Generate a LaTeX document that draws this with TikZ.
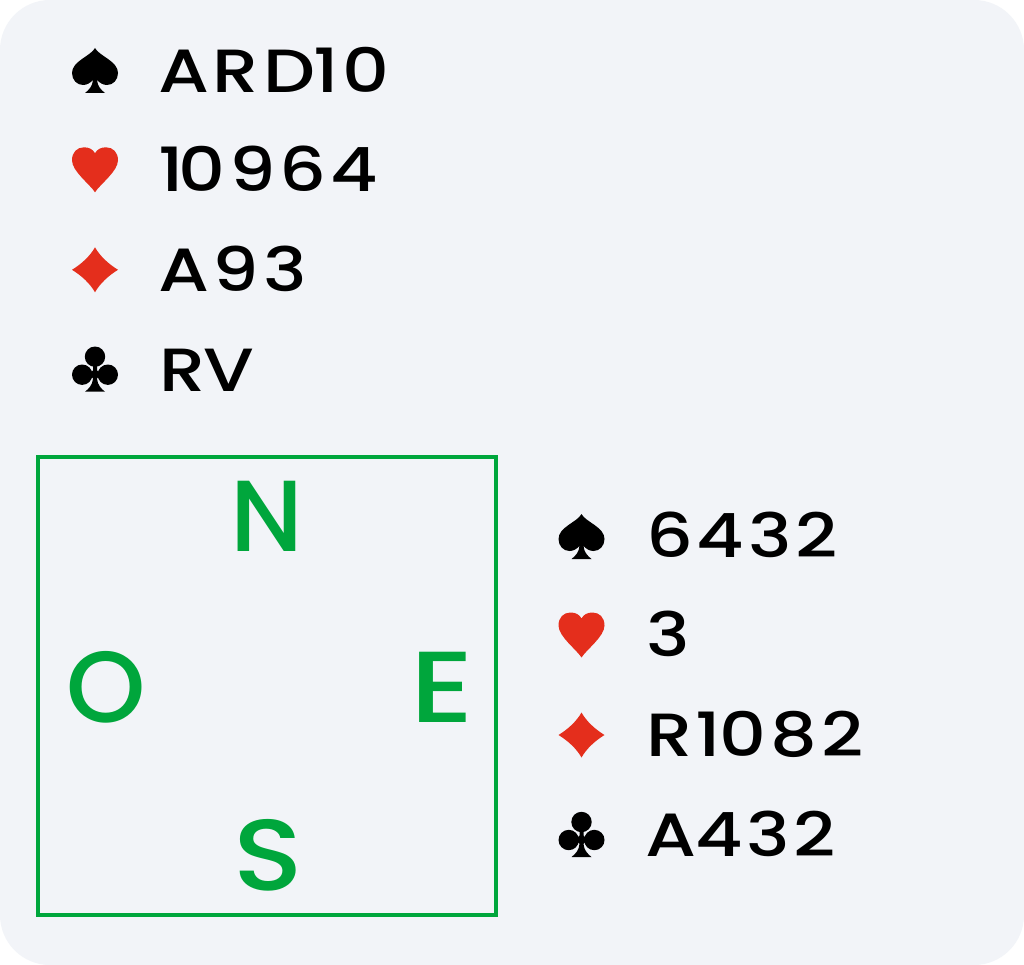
\documentclass[tikz,border=0pt]{standalone}
\usepackage{fontspec}
\newfontfamily\cardfont[FakeStretch=1.2,LetterSpace=6.5,Ligatures=NoCommon]{Poppins Medium}
\newfontfamily\seatfont{Poppins Medium}
\newfontfamily\seatwide[FakeStretch=1.2]{Poppins Medium}
\newfontfamily\seatmid[FakeStretch=1.14]{Poppins Medium}
\definecolor{panel}{HTML}{F2F4F8}
\definecolor{seatgreen}{HTML}{00A63C}
\definecolor{suitred}{HTML}{E42E1C}
\tikzset{
  x=1pt,y=-1pt,
  cards/.style={anchor=base west,inner sep=0pt,outer sep=0pt,font=\fontsize{61}{61}\cardfont,text=black},
  seat/.style={anchor=base west,inner sep=0pt,outer sep=0pt,font=\fontsize{101}{101}\seatfont,text=seatgreen},
  seatw/.style={seat,font=\fontsize{101}{101}\seatwide},
  seatm/.style={seat,font=\fontsize{101}{101}\seatmid},
  table/.style={draw=seatgreen,line width=4pt,fill=none,minimum width=458pt,minimum height=458pt,inner sep=0pt},
  spade/.pic={\fill[black] (23,0) .. controls (27,8) and (46,13) .. (46,25) .. controls (46,32) and (41,37) .. (35,37) .. controls (31,37) and (28,35) .. (25,32) .. controls (25.5,38) and (29,42) .. (33,45) -- (13,45) .. controls (17,42) and (20.5,38) .. (21,32) .. controls (18,35) and (15,37) .. (11,37) .. controls (5,37) and (0,32) .. (0,25) .. controls (0,13) and (19,8) .. (23,0) -- cycle;},
  heartsuit/.pic={\fill[suitred] (23,45) .. controls (18,37) and (0,24) .. (0,13) .. controls (0,5) and (5,0) .. (12,0) .. controls (17,0) and (21,2) .. (23,6) .. controls (25,2) and (29,0) .. (34,0) .. controls (41,0) and (46,5) .. (46,13) .. controls (46,24) and (28,37) .. (23,45) -- cycle;},
  diamondsuit/.pic={\fill[suitred] (23,0) .. controls (28,9) and (37,17) .. (46,22.5) .. controls (37,28) and (28,36) .. (23,45) .. controls (18,36) and (9,28) .. (0,22.5) .. controls (9,17) and (18,9) .. (23,0) -- cycle;},
  clubsuit/.pic={\fill[black] (23,10) circle[radius=10.2] (10.2,28) circle[radius=10.2] (35.8,28) circle[radius=10.2];
    \fill[black] (21,16) -- (25,16) -- (25,32) .. controls (25.5,38) and (29,42) .. (33,45) -- (13,45) .. controls (17,42) and (20.5,38) .. (21,32) -- cycle;
    \fill[black] (23,22) -- (30,28) -- (23,33) -- (16,28) -- cycle;}
}
\begin{document}
\begin{tikzpicture}
\useasboundingbox (0,0) rectangle (1024,965);
\fill[white] (0,0) rectangle (1024,965);
\fill[panel,rounded corners=50pt] (0,0) rectangle (1024,965);
\pic at (72,48) {spade};
\pic at (72,147.3) {heartsuit};
\pic at (72,247.3) {diamondsuit};
\pic at (72,346.7) {clubsuit};
\node[cards] (nst) at (158,92.5) {ARD\kern-2pt 10};
\node[cards] (nht) at (158,191.5) {1\kern-5pt 0964};
\node[cards] (ndt) at (158,291.5) {A93};
\node[cards] (nct) at (159,391.5) {R\kern-2pt V};
\pic at (558.5,514) {spade};
\pic at (558.5,612.5) {heartsuit};
\pic at (558.5,712.5) {diamondsuit};
\pic at (558.5,812) {clubsuit};
\node[cards] (est) at (646,557.5) {6432};
\node[cards] (eht) at (646,656.5) {3};
\node[cards] (edt) at (646,756.5) {R\kern3pt 1\kern-1pt 082};
\node[cards] (ect) at (645,856.5) {A\kern-1pt 432};
\node[table] (tbl) at (267.2,686.2) {};
\node[seat] (n) at (230,551) {N};
\node[seat] (o) at (66,722) {O};
\node[seatw] (e) at (410,722) {E};
\node[seatm] (s) at (233,890) {S};
\end{tikzpicture}
\end{document}
